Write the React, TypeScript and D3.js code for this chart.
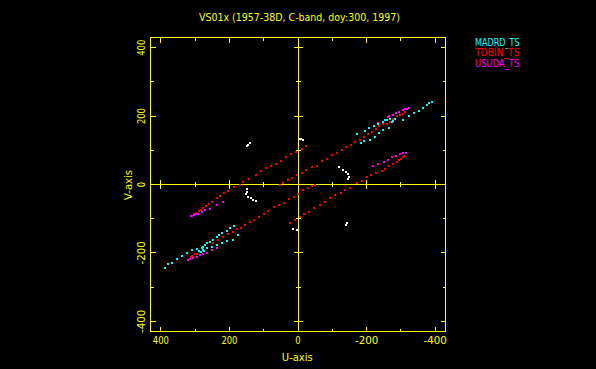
import React from "react";
import * as d3 from "d3";

const W = 596;
const H = 369;

const TITLE = "VS01x (1957-38D, C-band, doy:300, 1997)";
const X_LABEL = "U-axis";
const Y_LABEL = "V-axis";
const U_DOMAIN: [number, number] = [430, -430];
const V_DOMAIN: [number, number] = [-430, 430];
const MAJOR_TICKS = [400, 200, 0, -200, -400];
const MINOR_TICKS = [300, 100, -100, -300];
const TICK_LABELS = ["400", "200", "0", "-200", "-400"];

const SERIES_NAMES = ["MADRD_TS", "TDBIN_TS", "USUDA_TS"];
const SERIES_COLORS = ["#00ffff", "#ff0000", "#ff00ff"];
const OTHER_COLOR = "#ffffff";
const AXIS_COLOR = "#ffff00";

// MADRD_TS (cyan) u,v points
const madrdUV: [number, number][] = [
  [389, -243], [379, -233], [368, -229], [354, -219], [339, -209], [324, -200], [310, -192], [295, -190],
  [289, -195], [283, -198], [281, -187], [278, -192], [276, -182], [274, -195], [271, -177], [266, -172],
  [266, -187], [257, -168], [252, -182], [247, -161], [237, -155], [237, -177], [229, -148], [222, -143],
  [222, -171], [208, -135], [208, -165], [198, -128], [190, -161], [187, -122], [174, -148],
  [-171, 147], [-184, 120], [-192, 127], [-195, 157], [-208, 165], [-210, 131], [-222, 172], [-224, 139],
  [-234, 178], [-237, 151], [-247, 183], [-249, 159], [-254, 188], [-260, 190], [-265, 166], [-268, 193],
  [-273, 183], [-278, 186], [-283, 193], [-307, 190], [-324, 199], [-339, 209], [-353, 214], [-363, 224],
  [-375, 232], [-383, 238], [-390, 241],
];

// TDBIN_TS (red) u,v points
const tdbinUV: [number, number][] = [
  // track A
  [309, -91], [303, -87], [299, -85], [294, -82], [289, -78], [284, -75], [277, -69], [268, -63], [259, -58],
  [251, -50], [237, -39], [227, -33], [215, -26], [205, -20], [186, -8], [169, -2], [159, 8], [143, 15],
  [123, 27], [108, 39], [94, 47], [79, 54], [65, 61], [50, 69], [36, 79], [21, 89], [6, 95], [-11, 105], [-23, 113],
  // track A'
  [23, -114], [9, -104], [-6, -95], [-17, -87], [-33, -80], [-47, -70], [-64, -60], [-79, -51], [-93, -39],
  [-108, -31], [-124, -24], [-137, -17], [-152, -9], [-171, 3], [-186, 11], [-202, 22], [-213, 29], [-227, 34],
  [-244, 40], [-253, 46], [-266, 53], [-278, 61], [-288, 66], [-294, 71], [-300, 75], [-306, 80], [-310, 84],
  // track B
  [313, -212], [310, -209], [300, -204], [294, -202], [286, -197], [276, -190], [266, -187], [247, -172],
  [232, -163], [218, -153], [203, -146], [189, -138], [179, -131], [167, -126], [155, -119], [140, -109],
  [128, -104], [113, -95], [99, -87], [87, -77], [70, -67], [55, -60], [41, -54], [26, -43], [11, -36],
  [-1, -28], [-15, -17], [-29, -11], [-40, -5], [-50, 0],
  // track B'
  [52, -2], [44, 4], [30, 13], [17, 19], [4, 27], [-11, 34], [-23, 42], [-40, 51], [-55, 54], [-69, 69],
  [-84, 76], [-98, 86], [-113, 93], [-127, 102], [-140, 110], [-154, 117], [-166, 124], [-181, 131],
  [-192, 139], [-203, 149], [-215, 154], [-227, 161], [-237, 170], [-247, 176], [-259, 176], [-268, 183],
  [-278, 193], [-288, 199], [-297, 202], [-305, 207], [-312, 212],
];

// USUDA_TS (magenta) u,v points
const usudaUV: [number, number][] = [
  [313, -92], [309, -91], [303, -88], [296, -87], [291, -85], [281, -81], [271, -75], [257, -73], [237, -60], [219, -51],
  [320, -221], [315, -218], [307, -216], [295, -213], [286, -206], [278, -204], [266, -200], [252, -192], [235, -185],
  [-233, 181], [-261, 197], [-266, 199], [-276, 204], [-286, 209], [-295, 212], [-305, 217], [-312, 220], [-319, 222], [-324, 224],
  [-220, 53], [-234, 61], [-252, 66], [-263, 73], [-273, 79], [-286, 83], [-297, 89], [-307, 91], [-315, 93],
];

// unlabelled (white) u,v points
const otherUV: [number, number][] = [
  [145, 117], [140, 120], [148, 112],
  [-4, 134], [-10, 132], [-15, 129],
  [150, -14], [150, -22], [152, -29], [145, -36], [138, -39], [131, -44], [122, -48],
  [-120, 50], [-130, 42], [-140, 37], [-147, 30], [-149, 22], [-147, 15],
  [-144, -112], [-140, -119],
  [14, -131], [4, -133],
];

const FONT = "DejaVu Sans, Verdana, sans-serif";

function labelWidth(s: string): number {
  let w = 0;
  for (const ch of s) w += ch === "-" ? 7.3 : 5.33;
  return w;
}

function T(props: {
  x: number; y: number; text: string; len: number; anchor?: string; rotate?: number; fill?: string; size?: number;
}) {
  const { x, y, text, len, anchor = "middle", rotate = 0, fill = AXIS_COLOR, size = 10 } = props;
  return (
    <text
      transform={`translate(${x},${y}) rotate(${rotate})`}
      textAnchor={anchor as any}
      fontFamily={FONT}
      fontSize={size}
      fill={fill}
      textLength={len}
      lengthAdjust="spacingAndGlyphs"
    >
      {text}
    </text>
  );
}

export default function App() {
  const x = d3.scaleLinear().domain(U_DOMAIN).range([150.5, 445.5]);
  const y = d3.scaleLinear().domain(V_DOMAIN).range([331.5, 37.5]);
  const snap = (v: number) => Math.floor(v) + 0.5;

  const left = x(U_DOMAIN[0]);
  const right = x(U_DOMAIN[1]);
  const top = y(V_DOMAIN[1]);
  const bottom = y(V_DOMAIN[0]);
  const x0 = snap(x(0));
  const y0 = snap(y(0));

  const ticks: JSX.Element[] = [];
  const addTicks = (vals: number[], boxLen: number, axLen: number, kind: string) => {
    vals.forEach((t, i) => {
      const xt = snap(x(t));
      const yt = snap(y(t));
      // bottom and top box edges
      ticks.push(<line key={`${kind}b${i}`} x1={xt} x2={xt} y1={bottom} y2={bottom - boxLen} />);
      ticks.push(<line key={`${kind}t${i}`} x1={xt} x2={xt} y1={top} y2={top + boxLen} />);
      // left and right box edges
      ticks.push(<line key={`${kind}l${i}`} x1={left} x2={left + boxLen} y1={yt} y2={yt} />);
      ticks.push(<line key={`${kind}r${i}`} x1={right} x2={right - boxLen} y1={yt} y2={yt} />);
      if (t !== 0) {
        ticks.push(<line key={`${kind}h${i}`} x1={xt} x2={xt} y1={y0 - axLen} y2={y0 + axLen} />);
        ticks.push(<line key={`${kind}v${i}`} x1={x0 - axLen} x2={x0 + axLen} y1={yt} y2={yt} />);
      }
    });
  };
  addTicks(MAJOR_TICKS, 5, 4.5, "M");
  addTicks(MINOR_TICKS, 3, 2.5, "m");

  const dots = (data: [number, number][], color: string, key: string) =>
    data.map(([u, v], i) => (
      <rect
        key={`${key}${i}`}
        x={Math.round(x(u)) - 1}
        y={Math.round(y(v)) - 1}
        width={2}
        height={2}
        fill={color}
      />
    ));

  return (
    <>
      <style>{`html,body{margin:0;padding:0;background:#000;overflow:hidden}`}</style>
      <svg width={W} height={H} style={{ display: "block", background: "#000" }}>
        <rect x={0} y={0} width={W} height={H} fill="#000" />
        <g stroke={AXIS_COLOR} strokeWidth={1} shapeRendering="crispEdges" fill="none">
          <rect x={left} y={top} width={right - left} height={bottom - top} />
          <line x1={left} x2={right} y1={y0} y2={y0} />
          <line x1={x0} x2={x0} y1={top} y2={bottom} />
          {ticks}
        </g>
        <g shapeRendering="crispEdges">
          {dots(tdbinUV, SERIES_COLORS[1], "r")}
          {dots(usudaUV, SERIES_COLORS[2], "m")}
          {dots(madrdUV, SERIES_COLORS[0], "c")}
          {dots(otherUV, OTHER_COLOR, "w")}
        </g>
        <T x={299.5} y={20.7} text={TITLE} len={201} />
        {MAJOR_TICKS.map((t, i) => (
          <T key={`xl${i}`} x={x(t)} y={343.5} text={TICK_LABELS[i]} len={labelWidth(TICK_LABELS[i])} />
        ))}
        {MAJOR_TICKS.map((t, i) => (
          <T key={`yl${i}`} x={145} y={y(MAJOR_TICKS[MAJOR_TICKS.length - 1 - i] * -1 === t ? t : t)} text={TICK_LABELS[i]} len={labelWidth(TICK_LABELS[i])} rotate={-90} />
        ))}
        <T x={297.3} y={360.7} text={X_LABEL} len={31} />
        <T x={131.7} y={185} text={Y_LABEL} len={30} rotate={-90} />
        {SERIES_NAMES.map((n, i) => (
          <T key={`lg${i}`} x={475} y={[45.7, 56.2, 67.3][i]} text={n} len={44.5} anchor="start" fill={SERIES_COLORS[i]} />
        ))}
      </svg>
    </>
  );
}
